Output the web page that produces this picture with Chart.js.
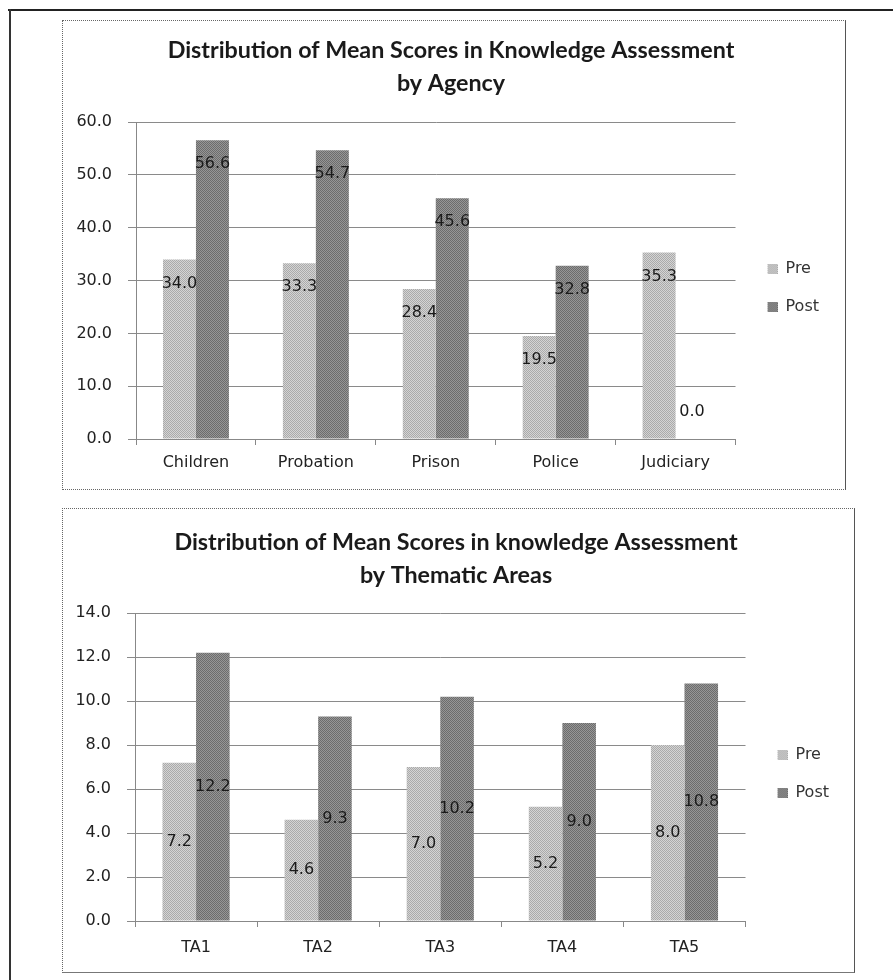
<!DOCTYPE html>
<html>
<head>
<meta charset="utf-8">
<script src="https://cdn.jsdelivr.net/npm/chart.js@4"></script>
<style>
  body { margin: 0; background: #fff; width: 893px; height: 980px; position: relative; overflow: hidden; }
  .frame-top { position: absolute; left: 8px; top: 9px; width: 885px; border-top: 2px solid #222; }
  .frame-left { position: absolute; left: 9px; top: 9px; height: 971px; border-left: 2px solid #333; }
  .box { position: absolute; border: 1px dotted #666; box-sizing: border-box; }
  canvas { position: absolute; }
</style>
</head>
<body>
<div class="frame-top"></div>
<div class="frame-left"></div>
<div class="box" style="left:62px; top:20px; width:784px; height:470px; border-right:1px solid #555;"></div>
<div class="box" style="left:62px; top:508px; width:793px; height:465px; border-right:1px solid #555; border-bottom:1px solid #777;"></div>
<canvas id="agency-chart" width="784" height="470" style="left:62px; top:20px;"></canvas>
<canvas id="thematic-chart" width="793" height="465" style="left:62px; top:508px;"></canvas>

<script>
// --- DATA ---
const agencyLabels = ['Children', 'Probation', 'Prison', 'Police', 'Judiciary'];
const agencyPre = [34.0, 33.3, 28.4, 19.5, 35.3];
const agencyPost = [56.6, 54.7, 45.6, 32.8, 0.0];

const thematicLabels = ['TA1', 'TA2', 'TA3', 'TA4', 'TA5'];
const thematicPre = [7.2, 4.6, 7.0, 5.2, 8.0];
const thematicPost = [12.2, 9.3, 10.2, 9.0, 10.8];

const textFont = 'DejaVu Sans';

// small checker tile so the bars get the grainy look of the printed chart
function checker(light, dark) {
    const tile = document.createElement('canvas');
    tile.width = 2; tile.height = 2;
    const t = tile.getContext('2d');
    t.fillStyle = light; t.fillRect(0, 0, 2, 2);
    t.fillStyle = dark; t.fillRect(0, 0, 1, 1); t.fillRect(1, 1, 1, 1);
    return t.createPattern(tile, 'repeat');
}
const preFill = checker('#d4d4d4', '#aaaaaa');
const postFill = checker('#969696', '#6c6c6c');

// legend marker: 10px square on the right of a 20px wide image,
// the empty left part gives the gap between the plot and the legend
function legendMark(fill) {
    const c = document.createElement('canvas');
    c.width = 20; c.height = 10;
    const g = c.getContext('2d');
    g.fillStyle = fill;
    g.fillRect(10, 0, 10, 10);
    return c;
}
const legendMarks = [legendMark(preFill), legendMark(postFill)];

// Draws the value of every bar, either just under the top of the bar or in its middle
const barValueLabels = {
    id: 'barValueLabels',
    afterDatasetsDraw(chart, args, opts) {
        const ctx = chart.ctx;
        ctx.save();
        ctx.font = `16px ${textFont}`;
        ctx.fillStyle = '#1a1a1a';
        ctx.textAlign = 'center';
        ctx.textBaseline = 'middle';
        chart.data.datasets.forEach((ds, i) => {
            chart.getDatasetMeta(i).data.forEach((bar, j) => {
                const v = ds.data[j];
                let y;
                if (opts.mode === 'center') {
                    y = (bar.y + bar.base) / 2;
                } else {
                    y = v > 0 ? bar.y + 24 : bar.base - 27;
                }
                ctx.fillText(v.toFixed(1), bar.x, y);
            });
        });
        ctx.restore();
    }
};

function makeChart(canvasId, labels, pre, post, yMax, step, titleLines, cfg) {
    const ctx = document.getElementById(canvasId).getContext('2d');
    return new Chart(ctx, {
        type: 'bar',
        data: {
            labels: labels,
            datasets: [
                { label: 'Pre', data: pre, backgroundColor: preFill, categoryPercentage: 0.55, barPercentage: 1.0 },
                { label: 'Post', data: post, backgroundColor: postFill, categoryPercentage: 0.55, barPercentage: 1.0 }
            ]
        },
        options: {
            responsive: false,
            animation: false,
            devicePixelRatio: 1,
            layout: { padding: { left: cfg.padLeft, right: cfg.padRight, top: 0, bottom: 0 } },
            plugins: {
                title: {
                    display: true,
                    text: titleLines,
                    color: '#1a1a1a',
                    font: { family: 'Lato', size: 23.3, weight: 'bold', lineHeight: 1.42 },
                    padding: cfg.titlePad
                },
                legend: {
                    position: 'right',
                    // empty legend title only pushes the two entries down next to the bars
                    title: { display: true, text: '', font: { size: 10, lineHeight: 1 }, padding: { top: cfg.legendPush - 10, bottom: 0 } },
                    labels: {
                        usePointStyle: true, pointStyleWidth: 20, boxHeight: 10, padding: 22,
                        color: '#333',
                        font: { family: textFont, size: 16 },
                        generateLabels: chart => {
                            const items = Chart.defaults.plugins.legend.labels.generateLabels(chart);
                            items.forEach((item, i) => { item.pointStyle = legendMarks[i]; });
                            return items;
                        }
                    }
                },
                tooltip: { enabled: false },
                barValueLabels: { mode: cfg.labelMode }
            },
            scales: {
                x: {
                    afterFit: scale => { scale.height = cfg.xHeight; },
                    grid: { drawOnChartArea: false, drawTicks: true, tickLength: 6, color: '#888' },
                    border: { color: '#888' },
                    ticks: { color: '#222', padding: cfg.xTickPad, font: { family: textFont, size: 16 } }
                },
                y: {
                    min: 0, max: yMax,
                    afterFit: scale => { scale.width = cfg.yWidth; },
                    grid: { color: '#8a8a8a', tickLength: 8 },
                    border: { color: '#888' },
                    ticks: {
                        stepSize: step, color: '#222', padding: 16,
                        font: { family: textFont, size: 16 },
                        callback: v => v.toFixed(1)
                    }
                }
            }
        },
        plugins: [barValueLabels]
    });
}

makeChart('agency-chart', agencyLabels, agencyPre, agencyPost, 60, 10,
    ['Distribution of Mean Scores in Knowledge Assessment', 'by Agency'],
    { padLeft: 11, padRight: 17, titlePad: { top: 13.5, bottom: 22.5 }, legendPush: 66,
      xHeight: 51, xTickPad: 8, yWidth: 63, labelMode: 'insideEnd' });

makeChart('thematic-chart', thematicLabels, thematicPre, thematicPost, 14, 2,
    ['Distribution of Mean Scores in knowledge Assessment', 'by Thematic Areas'],
    { padLeft: 11, padRight: 16, titlePad: { top: 17.5, bottom: 21.5 }, legendPush: 67,
      xHeight: 52, xTickPad: 11, yWidth: 62, labelMode: 'center' });
</script>
</body>
</html>
